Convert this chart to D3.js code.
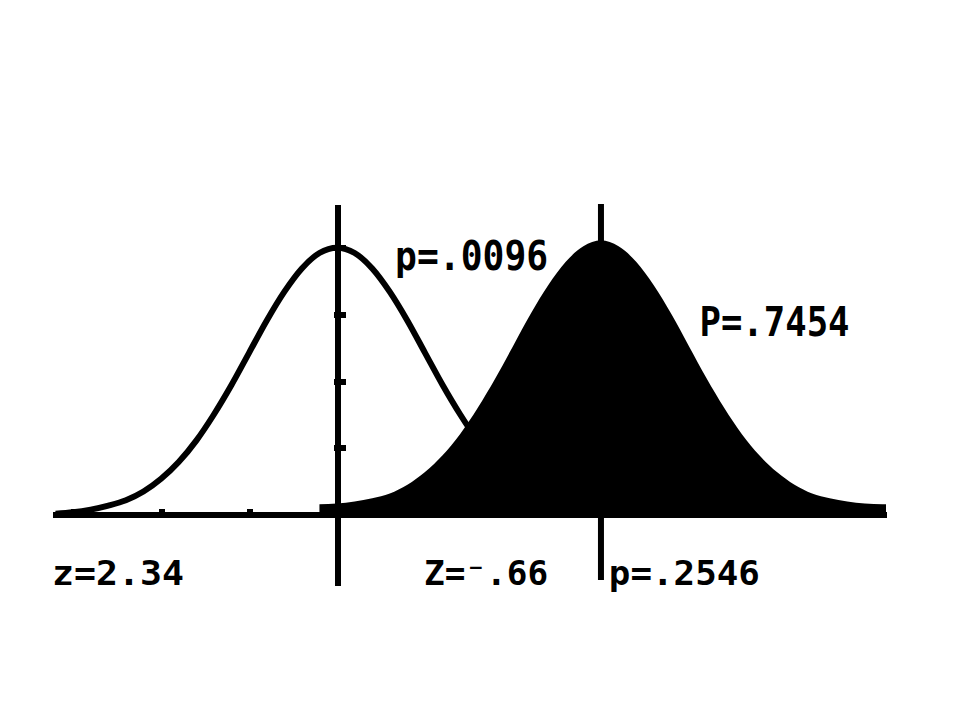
<!DOCTYPE html>
<html>
<head>
<meta charset="utf-8">
<script src="https://cdn.jsdelivr.net/npm/d3@7/dist/d3.min.js"></script>
<style>
  html, body { margin: 0; padding: 0; background: #fff; }
  svg { display: block; }
  text { font-family: "DejaVu Sans Mono", "Liberation Mono", monospace; font-weight: bold; fill: #000; }
</style>
</head>
<body>
<svg id="chart" width="960" height="720"></svg>
<script>
// ---- data ----
// Left distribution (drawn as an open curve), centred at 0
const leftX = [-3.2,-3.0,-2.8,-2.6,-2.4,-2.2,-2.0,-1.8,-1.6,-1.4,-1.2,-1.0,-0.8,-0.6,-0.4,-0.2,0.0,
               0.2,0.4,0.6,0.8,1.0,1.2,1.4,1.6,1.8,2.0,2.2,2.4];
const leftY = [0.002,0.004,0.008,0.014,0.022,0.035,0.054,0.079,0.111,0.150,0.194,0.242,0.290,0.333,0.368,0.391,0.399,
               0.391,0.368,0.333,0.290,0.242,0.194,0.150,0.111,0.079,0.054,0.035,0.022];
// Right distribution (shaded), centred at 3
const rightX = [-0.2,0.0,0.2,0.4,0.6,0.8,1.0,1.2,1.4,1.6,1.8,2.0,2.2,2.4,2.6,2.8,3.0,
                3.2,3.4,3.6,3.8,4.0,4.2,4.4,4.6,4.8,5.0,5.2,5.4,5.6,5.8,6.0,6.2,6.24];
const rightY = [0.016,0.017,0.020,0.025,0.032,0.045,0.064,0.089,0.121,0.160,0.204,0.252,0.300,0.343,0.378,0.401,0.410,
                0.401,0.378,0.343,0.300,0.252,0.204,0.160,0.121,0.089,0.064,0.045,0.032,0.025,0.020,0.017,0.016,0.016];
// Window and ticks
const xWindow = [-3.24, 6.24];
const yWindow = [-0.1045, 0.4642];
const xTicks = [-3, -2, -1, 1, 2, 3, 4, 5, 6];
const yTicks = [0.1, 0.2, 0.3, 0.4];
const verticalAt = [3];
// Labels on the screen
const labelTexts = ["p=.0096", "P=.7454", "z=2.34", "Z=\u207B.66", "p=.2546"];
const labelPosX  = [0.66, 4.12, -3.24, 0.99, 3.09];   // data-x of label start
const labelPosY  = [0.365, 0.267, -0.104, -0.104, -0.104]; // data-y of baseline

// ---- drawing ----
const svg = d3.select("#chart");
const x = d3.scaleLinear().domain(xWindow).range([52, 886]);
const y = d3.scaleLinear().domain(yWindow).range([585, 204]);

// x axis
const xAxis = d3.axisTop(x).tickValues(xTicks).tickSize(9).tickSizeOuter(0).tickFormat("");
const gx = svg.append("g").attr("transform", `translate(0,${y(0) + 3})`).call(xAxis);
gx.select(".domain").attr("stroke", "#000").attr("stroke-width", 6).attr("transform", "translate(0,-3)");
gx.selectAll(".tick line").attr("stroke", "#000").attr("stroke-width", 6);

// y axis
const yAxis = d3.axisRight(y).tickValues(yTicks).tickSize(12).tickSizeOuter(0).tickFormat("");
const gy = svg.append("g").attr("transform", `translate(${x(0) - 3},0)`).call(yAxis);
gy.select(".domain").attr("stroke", "#000").attr("stroke-width", 6).attr("transform", "translate(3,0)");
gy.selectAll(".tick line").attr("stroke", "#000").attr("stroke-width", 6);

svg.selectAll("path, line").attr("shape-rendering", "crispEdges");

// left curve (open)
const leftData = leftX.map((v, i) => [v, leftY[i]]);
const line = d3.line().x(d => x(d[0])).y(d => y(d[1])).curve(d3.curveMonotoneX);
svg.append("path").datum(leftData)
  .attr("d", line).attr("fill", "none").attr("stroke", "#000").attr("stroke-width", 6);

// right curve (shaded)
const rightData = rightX.map((v, i) => [v, rightY[i]]);
const area = d3.area().x(d => x(d[0])).y0(y(0) + 3).y1(d => y(d[1])).curve(d3.curveMonotoneX);
svg.append("path").datum(rightData).attr("d", area).attr("fill", "#000");

// vertical line
svg.selectAll(".vline").data(verticalAt).enter().append("line")
  .attr("class", "vline")
  .attr("x1", d => x(d)).attr("x2", d => x(d))
  .attr("y1", 204).attr("y2", 580)
  .attr("stroke", "#000").attr("stroke-width", 6);

// labels
const labelSize = [40, 40, 34, 34, 34];
const labelWidth = [153, 150, 132, 124, 151];
svg.selectAll(".lbl").data(labelTexts).enter().append("text")
  .attr("class", "lbl")
  .attr("x", (d, i) => x(labelPosX[i]))
  .attr("y", (d, i) => y(labelPosY[i]))
  .attr("font-size", (d, i) => labelSize[i])
  .attr("textLength", (d, i) => labelWidth[i])
  .attr("lengthAdjust", "spacingAndGlyphs")
  .text(d => d);
</script>
</body>
</html>
